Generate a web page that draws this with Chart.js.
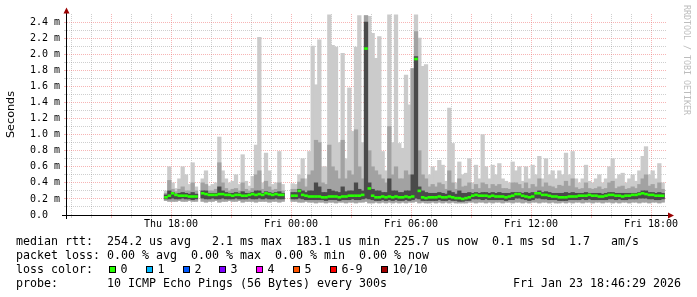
<!DOCTYPE html>
<html>
<head>
<meta charset="utf-8">
<title>SmokePing latency</title>
<script src="https://cdn.jsdelivr.net/npm/chart.js@4.4.1/dist/chart.umd.min.js"></script>
<style>
html,body{margin:0;padding:0;background:#fff;overflow:hidden;}
#wrap{position:relative;width:697px;height:297px;background:#fff;}
#c{position:absolute;left:0;top:0;}
.t{position:absolute;font-family:"DejaVu Sans Mono",monospace;font-size:11.63px;line-height:14px;white-space:pre;color:#000;}
.box{position:absolute;width:5px;height:5px;border:1px solid #000;top:266px;}
#wm{position:absolute;left:683px;top:5px;writing-mode:vertical-rl;font-family:"DejaVu Sans Mono",monospace;font-size:8.3px;line-height:8px;color:#bdbdbd;white-space:pre;}
</style>
</head>
<body>
<div id="wrap">
<canvas id="c" width="697" height="297"></canvas>
<div class="t" style="left:16px;top:233.5px">median rtt:  254.2 us avg   2.1 ms max  183.1 us min  225.7 us now  0.1 ms sd  1.7   am/s</div>
<div class="t" style="left:16px;top:247.5px">packet loss: 0.00 % avg  0.00 % max  0.00 % min  0.00 % now</div>
<div class="t" style="left:16px;top:261.5px">loss color:</div>
<div id="lossLegend"></div>
<div class="t" style="left:16px;top:275.5px">probe:       10 ICMP Echo Pings (56 Bytes) every 300s                  Fri Jan 23 18:46:29 2026</div>
<div id="wm">RRDTOOL / TOBI OETIKER</div>
</div>
<script>
// ---- data (milliseconds), one value per 10-minute slot, first slot starts Thu 17:40 ----
const SLOT_START_MIN = -380;   // minutes relative to Fri 00:00
const SLOT_MIN = 10;

// top of lightest smoke (max ping)
const maxv = [
 0.30,0.60,0.40,0.33,0.45,0.60,0.50,0.38,0.65,0.35,
 null,0.45,0.55,0.36,0.38,0.40,0.97,0.55,0.45,0.40,
 0.42,0.50,0.38,0.75,0.42,0.36,0.48,0.87,2.21,0.40,
 0.77,0.55,0.38,0.40,0.79,0.38,null,null,0.39,0.38,
 0.50,0.70,0.45,0.79,2.10,1.62,2.18,0.60,0.60,2.49,
 2.11,2.09,0.90,2.01,0.70,1.58,1.04,2.09,2.48,0.90,
 2.48,2.47,2.26,1.95,2.22,0.79,0.55,2.49,0.90,2.49,
 0.89,0.83,1.74,1.37,1.82,2.49,2.20,1.85,1.87,0.50,
 0.60,0.55,0.68,0.62,0.42,1.33,0.89,0.40,0.66,0.50,
 0.52,0.70,0.40,0.62,0.45,1.00,0.60,0.45,0.62,0.50,
 0.64,0.45,0.42,0.40,0.66,0.55,0.60,0.42,0.60,0.45,
 0.62,0.50,0.73,0.45,0.70,0.50,0.55,0.45,0.55,0.50,
 0.77,0.50,0.79,0.45,0.40,0.45,0.62,0.42,0.40,0.45,
 0.50,0.40,0.45,0.60,0.70,0.45,0.50,0.52,0.40,0.45,
 0.50,0.42,0.55,0.73,0.85,0.50,0.55,0.45,0.64,0.40
];
// top of middle smoke
const midv = [
 0.27,0.43,0.32,0.29,0.32,0.35,0.30,0.30,0.40,0.30,
 null,0.40,0.38,0.30,0.30,0.32,0.65,0.40,0.33,0.30,
 0.32,0.33,0.30,0.40,0.32,0.30,0.33,0.50,0.55,0.32,
 0.42,0.35,0.31,0.32,0.40,0.30,null,null,0.32,0.32,
 0.41,0.45,0.35,0.50,0.55,0.93,0.90,0.40,0.38,0.87,
 0.60,0.55,0.45,0.93,0.45,0.55,0.50,1.06,0.60,0.45,
 2.48,0.80,0.60,0.55,0.50,0.45,0.40,1.10,0.50,0.60,
 0.45,0.45,0.55,0.50,1.82,2.28,0.80,0.50,0.45,0.35,
 0.38,0.35,0.40,0.38,0.32,0.55,0.40,0.32,0.45,0.35,
 0.36,0.40,0.32,0.38,0.33,0.40,0.38,0.33,0.38,0.36,
 0.38,0.33,0.33,0.32,0.40,0.40,0.38,0.33,0.40,0.33,
 0.38,0.35,0.45,0.35,0.40,0.36,0.35,0.33,0.37,0.36,
 0.42,0.36,0.45,0.34,0.32,0.33,0.40,0.33,0.32,0.33,
 0.35,0.32,0.33,0.40,0.42,0.33,0.35,0.36,0.32,0.33,
 0.35,0.33,0.38,0.45,0.50,0.36,0.38,0.33,0.40,0.32
];
// top of dark smoke
const darkv = [
 0.25,0.30,0.28,0.26,0.27,0.28,0.27,0.26,0.28,0.26,
 null,0.30,0.30,0.27,0.27,0.27,0.35,0.30,0.28,0.27,
 0.27,0.28,0.27,0.29,0.27,0.27,0.28,0.30,0.30,0.27,
 0.29,0.28,0.27,0.28,0.29,0.27,null,null,0.28,0.28,
 0.32,0.30,0.28,0.30,0.30,0.40,0.35,0.28,0.28,0.32,
 0.30,0.29,0.28,0.35,0.29,0.30,0.30,0.40,0.32,0.30,
 2.40,0.40,0.32,0.30,0.30,0.28,0.28,0.45,0.30,0.30,
 0.28,0.28,0.30,0.30,0.50,1.97,0.35,0.30,0.28,0.27,
 0.27,0.27,0.28,0.27,0.26,0.30,0.28,0.26,0.30,0.27,
 0.27,0.28,0.27,0.28,0.27,0.28,0.28,0.27,0.28,0.27,
 0.28,0.27,0.27,0.27,0.28,0.28,0.28,0.27,0.28,0.27,
 0.28,0.28,0.30,0.28,0.29,0.28,0.27,0.27,0.27,0.27,
 0.28,0.27,0.28,0.27,0.27,0.27,0.28,0.27,0.27,0.27,
 0.27,0.26,0.27,0.28,0.28,0.27,0.27,0.27,0.27,0.27,
 0.27,0.27,0.28,0.30,0.30,0.28,0.28,0.27,0.28,0.27
];
// median rtt
const med = [
 0.22,0.24,0.27,0.25,0.24,0.24,0.24,0.23,0.23,0.23,
 null,0.27,0.26,0.25,0.25,0.25,0.26,0.26,0.25,0.25,
 0.24,0.25,0.25,0.24,0.24,0.25,0.26,0.25,0.26,0.25,
 0.27,0.26,0.25,0.26,0.25,0.25,null,null,0.24,0.24,
 0.30,0.25,0.24,0.23,0.23,0.23,0.23,0.22,0.22,0.23,
 0.23,0.23,0.22,0.23,0.23,0.24,0.24,0.24,0.24,0.25,
 2.07,0.33,0.24,0.22,0.22,0.23,0.22,0.23,0.22,0.23,
 0.22,0.22,0.23,0.22,0.23,1.94,0.30,0.22,0.21,0.22,
 0.22,0.22,0.23,0.22,0.22,0.23,0.22,0.21,0.21,0.20,
 0.21,0.22,0.24,0.25,0.24,0.24,0.24,0.23,0.24,0.23,
 0.23,0.23,0.22,0.23,0.24,0.26,0.26,0.24,0.23,0.22,
 0.23,0.27,0.27,0.25,0.25,0.24,0.23,0.23,0.22,0.22,
 0.22,0.23,0.23,0.23,0.24,0.24,0.24,0.25,0.24,0.24,
 0.23,0.23,0.24,0.25,0.25,0.24,0.24,0.23,0.24,0.24,
 0.25,0.25,0.26,0.27,0.26,0.25,0.25,0.24,0.24,0.24
];
// bottom of light / middle smoke (min ping)
const lov = [
 0.18,0.17,0.17,0.17,0.18,0.17,0.17,0.18,0.17,0.17,
 null,0.17,0.16,0.17,0.17,0.18,0.16,0.17,0.17,0.18,
 0.17,0.17,0.18,0.16,0.17,0.17,0.17,0.16,0.17,0.17,
 0.17,0.16,0.17,0.17,0.16,0.17,null,null,0.17,0.17,
 0.16,0.16,0.17,0.16,0.16,0.15,0.16,0.16,0.15,0.16,
 0.16,0.15,0.16,0.16,0.15,0.16,0.16,0.15,0.16,0.16,
 0.17,0.15,0.15,0.16,0.15,0.16,0.15,0.16,0.15,0.16,
 0.15,0.16,0.15,0.16,0.16,0.17,0.15,0.16,0.15,0.15,
 0.16,0.15,0.16,0.15,0.16,0.15,0.16,0.15,0.15,0.15,
 0.15,0.16,0.16,0.15,0.16,0.16,0.15,0.16,0.15,0.16,
 0.16,0.15,0.16,0.16,0.15,0.16,0.16,0.15,0.16,0.15,
 0.16,0.16,0.15,0.16,0.16,0.15,0.16,0.15,0.15,0.16,
 0.15,0.16,0.15,0.16,0.16,0.15,0.16,0.16,0.15,0.16,
 0.16,0.15,0.16,0.16,0.15,0.16,0.15,0.16,0.16,0.15,
 0.16,0.16,0.15,0.16,0.16,0.15,0.16,0.16,0.15,0.16
];
// bottom of dark smoke
const dlo = [
 0.20,0.20,0.21,0.20,0.20,0.21,0.20,0.20,0.19,0.20,
 null,0.21,0.20,0.20,0.21,0.20,0.20,0.21,0.20,0.20,
 0.20,0.21,0.20,0.20,0.20,0.21,0.20,0.20,0.21,0.20,
 0.21,0.20,0.20,0.21,0.20,0.20,null,null,0.20,0.20,
 0.21,0.20,0.19,0.19,0.19,0.19,0.19,0.19,0.18,0.19,
 0.19,0.19,0.18,0.19,0.19,0.19,0.20,0.19,0.19,0.20,
 0.21,0.20,0.19,0.18,0.18,0.19,0.18,0.19,0.18,0.19,
 0.18,0.18,0.19,0.18,0.19,0.21,0.20,0.18,0.18,0.18,
 0.18,0.18,0.19,0.18,0.18,0.19,0.18,0.18,0.17,0.17,
 0.18,0.18,0.20,0.20,0.20,0.19,0.20,0.19,0.19,0.19,
 0.19,0.19,0.18,0.19,0.19,0.21,0.21,0.20,0.19,0.18,
 0.19,0.21,0.21,0.20,0.20,0.19,0.19,0.19,0.18,0.18,
 0.18,0.19,0.19,0.19,0.19,0.20,0.19,0.20,0.19,0.19,
 0.19,0.19,0.19,0.20,0.20,0.19,0.20,0.19,0.19,0.20,
 0.20,0.20,0.21,0.21,0.21,0.20,0.20,0.19,0.19,0.20
];

// ---- axes / legend labels ----
const xTickMinutes = [-360, 0, 360, 720, 1080];
const xTickLabels  = ['Thu 18:00', 'Fri 00:00', 'Fri 06:00', 'Fri 12:00', 'Fri 18:00'];
const yTickLabels  = ['0.0  ','0.2 m','0.4 m','0.6 m','0.8 m','1.0 m','1.2 m','1.4 m','1.6 m','1.8 m','2.0 m','2.2 m','2.4 m'];
const lossLabels   = ['0','1','2','3','4','5','6-9','10/10'];
const lossColors   = ['#26ff00','#00b8ff','#0059ff','#7e00ff','#ff00ff','#ff5500','#ff0000','#a10000'];

// ---- layout ----
const X_MIN = -672, X_MAX = 1128;         // Thu 12:48 .. Fri 18:48
const lossBoxX = [109, 146, 183, 219, 256, 293, 330, 381];

const lg = document.getElementById('lossLegend');
lossLabels.forEach((lab, i) => {
  const b = document.createElement('div');
  b.className = 'box'; b.style.left = lossBoxX[i] + 'px'; b.style.background = lossColors[i];
  lg.appendChild(b);
  const t = document.createElement('div');
  t.className = 't'; t.style.left = (lossBoxX[i] + 11.5) + 'px'; t.style.top = '261.5px';
  t.textContent = lab;
  lg.appendChild(t);
});

const slotCenter = i => SLOT_START_MIN + SLOT_MIN * i + SLOT_MIN / 2;
function band(lo, hi) {
  const out = [];
  for (let i = 0; i < hi.length; i++) {
    if (hi[i] == null || lo[i] == null) continue;
    out.push({ x: slotCenter(i), y: [lo[i], hi[i]] });
  }
  return out;
}
function pts(v) {
  const out = [];
  for (let i = 0; i < v.length; i++) { if (v[i] != null) out.push({ x: slotCenter(i), y: v[i] }); }
  return out;
}

const xGrid = []; for (let m = -660; m <= X_MAX; m += 60) xGrid.push(m);
const yGrid = []; for (let i = 0; i <= 24; i++) yGrid.push(i / 10);
const MINOR = 'rgba(140,140,140,0.42)', MAJOR = 'rgba(240,120,120,0.55)';
const isMajX = v => Math.abs(v % 180) === 0;
const isMajY = v => Math.round(v * 10) % 2 === 0;

const axesPlugin = {
  id: 'rrdAxes',
  afterDraw(chart) {
    const { ctx, chartArea: a } = chart;
    ctx.save();
    ctx.strokeStyle = '#000'; ctx.lineWidth = 1;
    ctx.beginPath();
    ctx.moveTo(a.left - 0.5, a.top - 1); ctx.lineTo(a.left - 0.5, a.bottom + 4);
    ctx.moveTo(a.left - 5, a.bottom + 0.5); ctx.lineTo(a.right + 1, a.bottom + 0.5);
    ctx.stroke();
    ctx.fillStyle = '#9a0000';
    ctx.beginPath();
    ctx.moveTo(a.left - 0.5, a.top - 6.5); ctx.lineTo(a.left - 3.5, a.top - 0.5); ctx.lineTo(a.left + 2.5, a.top - 0.5);
    ctx.closePath(); ctx.fill();
    ctx.beginPath();
    ctx.moveTo(a.right + 7, a.bottom + 0.5); ctx.lineTo(a.right + 1, a.bottom - 2.5); ctx.lineTo(a.right + 1, a.bottom + 3.5);
    ctx.closePath(); ctx.fill();
    ctx.restore();
  }
};

const barCommon = { type: 'bar', grouped: false, barThickness: 3.6, borderWidth: 0 };

new Chart(document.getElementById('c'), {
  type: 'bar',
  data: {
    datasets: [
      { type: 'line', label: 'median rtt', data: pts(med), showLine: false,
        pointStyle: 'line', pointRadius: 1.8, pointHoverRadius: 1.8,
        pointBorderWidth: 2.6, pointBorderColor: '#26ff00', borderColor: '#26ff00' },
      Object.assign({ label: 'dark smoke',  data: band(dlo, darkv), backgroundColor: '#4a4a4a' }, barCommon),
      Object.assign({ label: 'mid smoke',   data: band(lov, midv),  backgroundColor: '#a2a2a2' }, barCommon),
      Object.assign({ label: 'light smoke', data: band(lov, maxv),  backgroundColor: '#cbcbcb' }, barCommon)
    ]
  },
  options: {
    responsive: false,
    animation: false,
    events: [],
    devicePixelRatio: 1,
    layout: { padding: { left: 0, right: 30, top: 14, bottom: 62 } },
    plugins: { legend: { display: false }, tooltip: { enabled: false } },
    scales: {
      x: {
        type: 'linear', min: X_MIN, max: X_MAX, offset: false,
        afterBuildTicks: s => { s.ticks = xGrid.map(v => ({ value: v })); },
        afterFit: s => { s.height = 20; },
        ticks: {
          autoSkip: false, maxRotation: 0, minRotation: 0, padding: 0, color: '#000',
          font: { family: 'DejaVu Sans Mono', size: 10 },
          callback: v => { const k = xTickMinutes.indexOf(v); return k < 0 ? '' : xTickLabels[k]; }
        },
        grid: {
          offset: false, lineWidth: 1, tickLength: 3,
          color: c => (c.tick && isMajX(c.tick.value)) ? MAJOR : MINOR,
          tickColor: c => (c.tick && isMajX(c.tick.value)) ? MAJOR : MINOR
        },
        border: { display: false, dash: [1, 1] }
      },
      y: {
        type: 'linear', min: 0, max: 2.5,
        afterBuildTicks: s => { s.ticks = yGrid.map(v => ({ value: v })); },
        afterFit: s => { s.width = 67; },
        ticks: {
          autoSkip: false, padding: 4, color: '#000',
          font: { family: 'DejaVu Sans Mono', size: 10 },
          callback: v => { const k = Math.round(v * 10); return k % 2 ? '' : yTickLabels[k / 2]; }
        },
        grid: {
          lineWidth: 1, tickLength: 3,
          color: c => (c.tick && isMajY(c.tick.value)) ? MAJOR : MINOR,
          tickColor: c => (c.tick && isMajY(c.tick.value)) ? MAJOR : MINOR
        },
        border: { display: false, dash: [1, 1] },
        title: { display: true, text: 'Seconds', color: '#000',
                 font: { family: 'DejaVu Sans', size: 11.2 }, padding: { top: 4, bottom: 0 } }
      }
    }
  },
  plugins: [axesPlugin]
});
</script>
</body>
</html>
